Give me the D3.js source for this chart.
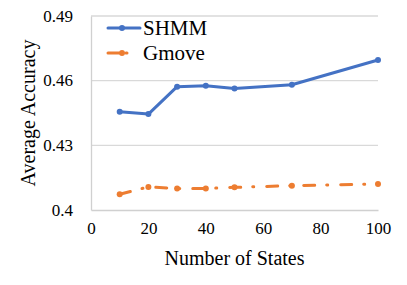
<!DOCTYPE html>
<meta charset="utf-8">
<style>
body { margin: 0; background: #fff; }
</style>
<svg width="407" height="285" font-family="'Times New Roman', 'Liberation Serif', serif"></svg>
<script src="https://cdn.jsdelivr.net/npm/d3@7"></script>
<script>
var states = [10, 20, 30, 40, 50, 70, 100];
var shmm = [0.4456, 0.4445, 0.4572, 0.4576, 0.4564, 0.4581, 0.4696];
var gmove = [0.4073, 0.4107, 0.4100, 0.4100, 0.4105, 0.4113, 0.4121];
var xTicks = [0, 20, 40, 60, 80, 100];
var yTicks = [0.4, 0.43, 0.46, 0.49];

var serif = "'Times New Roman', 'Liberation Serif', serif";

var svg = d3.select("svg"),
    margin = {top: 16, right: 29, bottom: 75, left: 91},
    width = +svg.attr("width") - margin.left - margin.right,
    height = +svg.attr("height") - margin.top - margin.bottom;

var x = d3.scaleLinear().domain([0, 100]).range([0, width]),
    y = d3.scaleLinear().domain([0.4, 0.49]).range([height, 0]);

var g = svg.append("g")
    .attr("transform", "translate(" + margin.left + "," + margin.top + ")");

// gridlines
g.selectAll("line.grid")
  .data(yTicks.slice(1))
  .enter().append("line")
  .attr("class", "grid")
  .attr("x1", 0).attr("x2", width)
  .attr("y1", function(d) { return y(d); })
  .attr("y2", function(d) { return y(d); })
  .attr("stroke", "#d9d9d9").attr("stroke-width", 1.3);

var xAxis = g.append("g")
    .attr("transform", "translate(0," + height + ")")
    .call(d3.axisBottom(x).tickValues(xTicks).tickSize(0).tickPadding(12));
xAxis.attr("font-family", serif).attr("font-size", 17);
xAxis.select(".domain").attr("stroke", "#d0d0d0").attr("stroke-width", 1.3);
xAxis.selectAll("text").attr("fill", "#000");

var yAxis = g.append("g")
    .call(d3.axisLeft(y).tickValues(yTicks).tickSize(0).tickPadding(18)
      .tickFormat(function(d) { return d === 0.4 ? "0.4" : d3.format(".2f")(d); }));
yAxis.attr("font-family", serif).attr("font-size", 17);
yAxis.select(".domain").attr("stroke", "#d0d0d0").attr("stroke-width", 1.3);
yAxis.selectAll("text").attr("fill", "#000").attr("dy", "0.3em");

svg.append("text")
  .attr("x", margin.left + width / 2).attr("y", 265)
  .attr("text-anchor", "middle").attr("font-size", 20)
  .text("Number of States");

svg.append("text")
  .attr("transform", "translate(35," + (margin.top + height / 2) + ") rotate(-90)")
  .attr("text-anchor", "middle").attr("font-size", 20)
  .text("Average Accuracy");

var line = d3.line()
    .x(function(d, i) { return x(states[i]); })
    .y(function(d) { return y(d); });

var series = [
  {name: "SHMM", values: shmm, color: "#4472C4", dash: null, r: 3},
  {name: "Gmove", values: gmove, color: "#ED7D31", dash: "11,12,1,13", r: 3}
];

series.forEach(function(s) {
  g.append("path")
    .datum(s.values)
    .attr("d", line)
    .attr("fill", "none")
    .attr("stroke", s.color)
    .attr("stroke-width", 3)
    .attr("stroke-linecap", "round")
    .attr("stroke-linejoin", "round")
    .attr("stroke-dasharray", s.dash);
  g.selectAll(null)
    .data(s.values)
    .enter().append("circle")
    .attr("cx", function(d, i) { return x(states[i]); })
    .attr("cy", function(d) { return y(d); })
    .attr("r", s.r)
    .attr("fill", s.color);
});

// legend
var leg = svg.append("g").attr("transform", "translate(108,0)");
series.forEach(function(s, i) {
  var ly = 28 + i * 25;
  leg.append("line")
    .attr("x1", 0).attr("x2", 32).attr("y1", ly).attr("y2", ly)
    .attr("stroke", s.color).attr("stroke-width", 3)
    .attr("stroke-linecap", "round")
    .attr("stroke-dasharray", s.dash ? "11,7,1,20" : null);
  leg.append("circle").attr("cx", 14).attr("cy", ly).attr("r", 3).attr("fill", s.color);
  leg.append("text")
    .attr("x", 35).attr("y", ly + 7)
    .attr("font-size", 21)
    .text(s.name);
});
</script>
